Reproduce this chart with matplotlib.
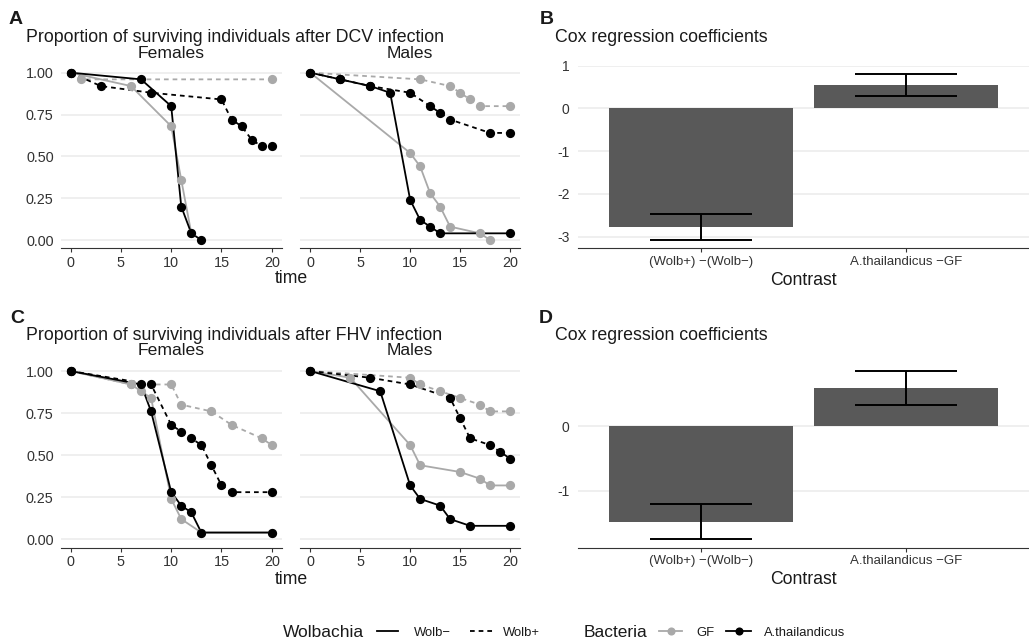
import matplotlib

matplotlib.use("Agg")
import matplotlib.pyplot as plt

plt.rcParams.update(
    {
        "font.family": ["Liberation Sans", "DejaVu Sans"],
        "axes.unicode_minus": False,
    }
)

W, H = 1029, 641
GRAY = "#A9A9A9"
BLACK = "#000000"
BAR = "#595959"
GRID = "#EBEBEB"
AXIS = "#333333"
TEXT = "#1A1A1A"
DASH = (0, (2.6, 2.2))

# --- survival after DCV infection (time, proportion) ---
dcv_f_gf_wm_t = [0, 6, 10, 11, 12]
dcv_f_gf_wm_v = [1.0, 0.92, 0.68, 0.36, 0.04]
dcv_f_gf_wp_t = [0, 1, 20]
dcv_f_gf_wp_v = [1.0, 0.96, 0.96]
dcv_f_at_wm_t = [0, 7, 10, 11, 12, 13]
dcv_f_at_wm_v = [1.0, 0.96, 0.80, 0.20, 0.04, 0.0]
dcv_f_at_wp_t = [0, 3, 8, 15, 16, 17, 18, 19, 20]
dcv_f_at_wp_v = [1.0, 0.92, 0.88, 0.84, 0.72, 0.68, 0.60, 0.56, 0.56]

dcv_m_gf_wm_t = [0, 10, 11, 12, 13, 14, 17, 18]
dcv_m_gf_wm_v = [1.0, 0.52, 0.44, 0.28, 0.20, 0.08, 0.04, 0.0]
dcv_m_gf_wp_t = [0, 11, 14, 15, 16, 17, 20]
dcv_m_gf_wp_v = [1.0, 0.96, 0.92, 0.88, 0.84, 0.80, 0.80]
dcv_m_at_wm_t = [0, 3, 6, 8, 10, 11, 12, 13, 20]
dcv_m_at_wm_v = [1.0, 0.96, 0.92, 0.88, 0.24, 0.12, 0.08, 0.04, 0.04]
dcv_m_at_wp_t = [0, 3, 6, 10, 12, 13, 14, 18, 20]
dcv_m_at_wp_v = [1.0, 0.96, 0.92, 0.88, 0.80, 0.76, 0.72, 0.64, 0.64]

# --- survival after FHV infection ---
fhv_f_gf_wm_t = [0, 6, 7, 8, 10, 11, 13, 20]
fhv_f_gf_wm_v = [1.0, 0.92, 0.88, 0.84, 0.24, 0.12, 0.04, 0.04]
fhv_f_gf_wp_t = [0, 6, 10, 11, 14, 16, 19, 20]
fhv_f_gf_wp_v = [1.0, 0.92, 0.92, 0.80, 0.76, 0.68, 0.60, 0.56]
fhv_f_at_wm_t = [0, 7, 8, 10, 11, 12, 13, 20]
fhv_f_at_wm_v = [1.0, 0.92, 0.76, 0.28, 0.20, 0.16, 0.04, 0.04]
fhv_f_at_wp_t = [0, 8, 10, 11, 12, 13, 14, 15, 16, 20]
fhv_f_at_wp_v = [1.0, 0.92, 0.68, 0.64, 0.60, 0.56, 0.44, 0.32, 0.28, 0.28]

fhv_m_gf_wm_t = [0, 4, 10, 11, 15, 17, 18, 20]
fhv_m_gf_wm_v = [1.0, 0.96, 0.56, 0.44, 0.40, 0.36, 0.32, 0.32]
fhv_m_gf_wp_t = [0, 10, 11, 13, 15, 17, 18, 20]
fhv_m_gf_wp_v = [1.0, 0.96, 0.92, 0.88, 0.84, 0.80, 0.76, 0.76]
fhv_m_at_wm_t = [0, 7, 10, 11, 13, 14, 16, 20]
fhv_m_at_wm_v = [1.0, 0.88, 0.32, 0.24, 0.20, 0.12, 0.08, 0.08]
fhv_m_at_wp_t = [0, 6, 10, 14, 15, 16, 18, 19, 20]
fhv_m_at_wp_v = [1.0, 0.96, 0.92, 0.84, 0.72, 0.60, 0.56, 0.52, 0.48]

# --- Cox regression coefficients ---
contrasts = ["(Wolb+) \u2212(Wolb\u2212)", "A.thailandicus \u2212GF"]
dcv_coef = [-2.77, 0.54]
dcv_low = [-3.08, 0.29]
dcv_high = [-2.46, 0.81]
fhv_coef = [-1.47, 0.58]
fhv_low = [-1.74, 0.33]
fhv_high = [-1.205, 0.84]


def box(left, top, right, bottom):
    return [left / W, 1 - bottom / H, (right - left) / W, (bottom - top) / H]


def style_survival(ax, show_y):
    ax.set_xlim(-1, 21)
    ax.set_ylim(-0.05, 1.05)
    ax.set_xticks([0, 5, 10, 15, 20])
    ax.set_yticks([0.0, 0.25, 0.5, 0.75, 1.0])
    ax.yaxis.set_major_formatter(lambda v, _: f"{v:.2f}")
    ax.grid(axis="y", color=GRID, linewidth=1.1)
    ax.set_axisbelow(True)
    for side in ("top", "right", "left"):
        ax.spines[side].set_visible(False)
    ax.spines["bottom"].set_color(AXIS)
    ax.spines["bottom"].set_linewidth(0.8)
    ax.tick_params(axis="x", length=3, width=0.8, color=AXIS, labelsize=10.4, pad=2.5, labelcolor="#333333")
    ax.tick_params(axis="y", length=0, labelsize=10.4, pad=5, labelcolor="#333333", labelleft=show_y)


def draw_curves(ax, curves):
    for times, values, color, dashed in curves:
        ax.plot(times, values, color=color, linewidth=1.3, linestyle=DASH if dashed else "-", zorder=2)
    for times, values, color, dashed in curves:
        ax.scatter(times, values, s=44, color=color, linewidths=0, zorder=4 if color == BLACK else 3)


def style_cox(ax, coef, low, high, ylim, yticks):
    x = [1, 2]
    ax.bar(x, coef, width=0.9, color=BAR, zorder=2)
    ax.vlines(x, low, high, color=BLACK, linewidth=1.4, zorder=3)
    ax.hlines(low, [p - 0.25 for p in x], [p + 0.25 for p in x], color=BLACK, linewidth=1.4, zorder=3)
    ax.hlines(high, [p - 0.25 for p in x], [p + 0.25 for p in x], color=BLACK, linewidth=1.4, zorder=3)
    ax.set_xlim(0.4, 2.6)
    ax.set_ylim(*ylim)
    ax.set_yticks(yticks)
    ax.set_xticks(x, labels=contrasts)
    ax.grid(axis="y", color=GRID, linewidth=1.1)
    ax.set_axisbelow(True)
    for side in ("top", "right", "left"):
        ax.spines[side].set_visible(False)
    ax.spines["bottom"].set_color(AXIS)
    ax.spines["bottom"].set_linewidth(0.8)
    ax.tick_params(axis="x", length=3, width=0.8, color=AXIS, labelsize=9.5, pad=2.5, labelcolor="#333333")
    ax.tick_params(axis="y", length=0, labelsize=10, pad=6, labelcolor="#333333")


fig = plt.figure(figsize=(W / 100, H / 100), dpi=100, facecolor="white")

panels = [
    (box(60.6, 64.3, 281.8, 248.4), True,
     [(dcv_f_gf_wm_t, dcv_f_gf_wm_v, GRAY, False), (dcv_f_gf_wp_t, dcv_f_gf_wp_v, GRAY, True),
      (dcv_f_at_wm_t, dcv_f_at_wm_v, BLACK, False), (dcv_f_at_wp_t, dcv_f_at_wp_v, BLACK, True)]),
    (box(300.3, 64.3, 520.0, 248.4), False,
     [(dcv_m_gf_wm_t, dcv_m_gf_wm_v, GRAY, False), (dcv_m_gf_wp_t, dcv_m_gf_wp_v, GRAY, True),
      (dcv_m_at_wm_t, dcv_m_at_wm_v, BLACK, False), (dcv_m_at_wp_t, dcv_m_at_wp_v, BLACK, True)]),
    (box(60.6, 362.6, 281.8, 547.7), True,
     [(fhv_f_gf_wm_t, fhv_f_gf_wm_v, GRAY, False), (fhv_f_gf_wp_t, fhv_f_gf_wp_v, GRAY, True),
      (fhv_f_at_wm_t, fhv_f_at_wm_v, BLACK, False), (fhv_f_at_wp_t, fhv_f_at_wp_v, BLACK, True)]),
    (box(300.3, 362.6, 520.0, 547.7), False,
     [(fhv_m_gf_wm_t, fhv_m_gf_wm_v, GRAY, False), (fhv_m_gf_wp_t, fhv_m_gf_wp_v, GRAY, True),
      (fhv_m_at_wm_t, fhv_m_at_wm_v, BLACK, False), (fhv_m_at_wp_t, fhv_m_at_wp_v, BLACK, True)]),
]
for rect, show_y, curves in panels:
    ax = fig.add_axes(rect)
    style_survival(ax, show_y)
    draw_curves(ax, curves)

cox_b = fig.add_axes(box(578, 65.5, 1029, 248.3))
style_cox(cox_b, dcv_coef, dcv_low, dcv_high, (-3.27, 1.005), [-3, -2, -1, 0, 1])
cox_d = fig.add_axes(box(578, 363.0, 1029, 547.5))
style_cox(cox_d, fhv_coef, fhv_low, fhv_high, (-1.87, 0.97), [-1, 0])

# overlay in pixel coordinates for titles, strip labels and legend
lay = fig.add_axes([0, 0, 1, 1])
lay.set_xlim(0, W)
lay.set_ylim(H, 0)
lay.set_axis_off()


def put(x, y, s, size, ha="left", weight="normal"):
    lay.text(x, y, s, fontsize=size, ha=ha, va="baseline", color=TEXT, fontweight=weight)


for letter, x, y in (("A", 9, 24), ("B", 540, 24), ("C", 10, 322.7), ("D", 539, 322.7)):
    put(x, y, letter, 14, weight="bold")
put(26, 41.5, "Proportion of surviving individuals after DCV infection", 12.8)
put(26, 340, "Proportion of surviving individuals after FHV infection", 12.8)
put(555, 41.7, "Cox regression coefficients", 12.8)
put(555, 340, "Cox regression coefficients", 12.8)
for y in (58.3, 355):
    put(171.2, y, "Females", 12.6, ha="center")
    put(410.2, y, "Males", 12.6, ha="center")
put(291, 283, "time", 12.7, ha="center")
put(291, 584, "time", 12.7, ha="center")
put(803.5, 285, "Contrast", 12.7, ha="center")
put(803.5, 584, "Contrast", 12.7, ha="center")

# legend
key_y = 630.5
put(283, 637, "Wolbachia", 12.5)
lay.plot([377, 398], [key_y, key_y], color=BLACK, linewidth=1.3)
put(414, 636, "Wolb\u2212", 9.4)
lay.plot([470, 493], [key_y, key_y], color=BLACK, linewidth=1.3, linestyle=DASH)
put(503, 636, "Wolb+", 9.4)
put(584, 637, "Bacteria", 12.5)
lay.plot([659, 682], [key_y, key_y], color=GRAY, linewidth=1.3)
lay.scatter([670.5], [key_y], s=34, color=GRAY, linewidths=0)
put(696, 636, "GF", 9.4)
lay.plot([726, 751], [key_y, key_y], color=BLACK, linewidth=1.3)
lay.scatter([738.5], [key_y], s=34, color=BLACK, linewidths=0)
put(764, 636, "A.thailandicus", 9.4)

fig.savefig("out.png", dpi=100, facecolor="white")
